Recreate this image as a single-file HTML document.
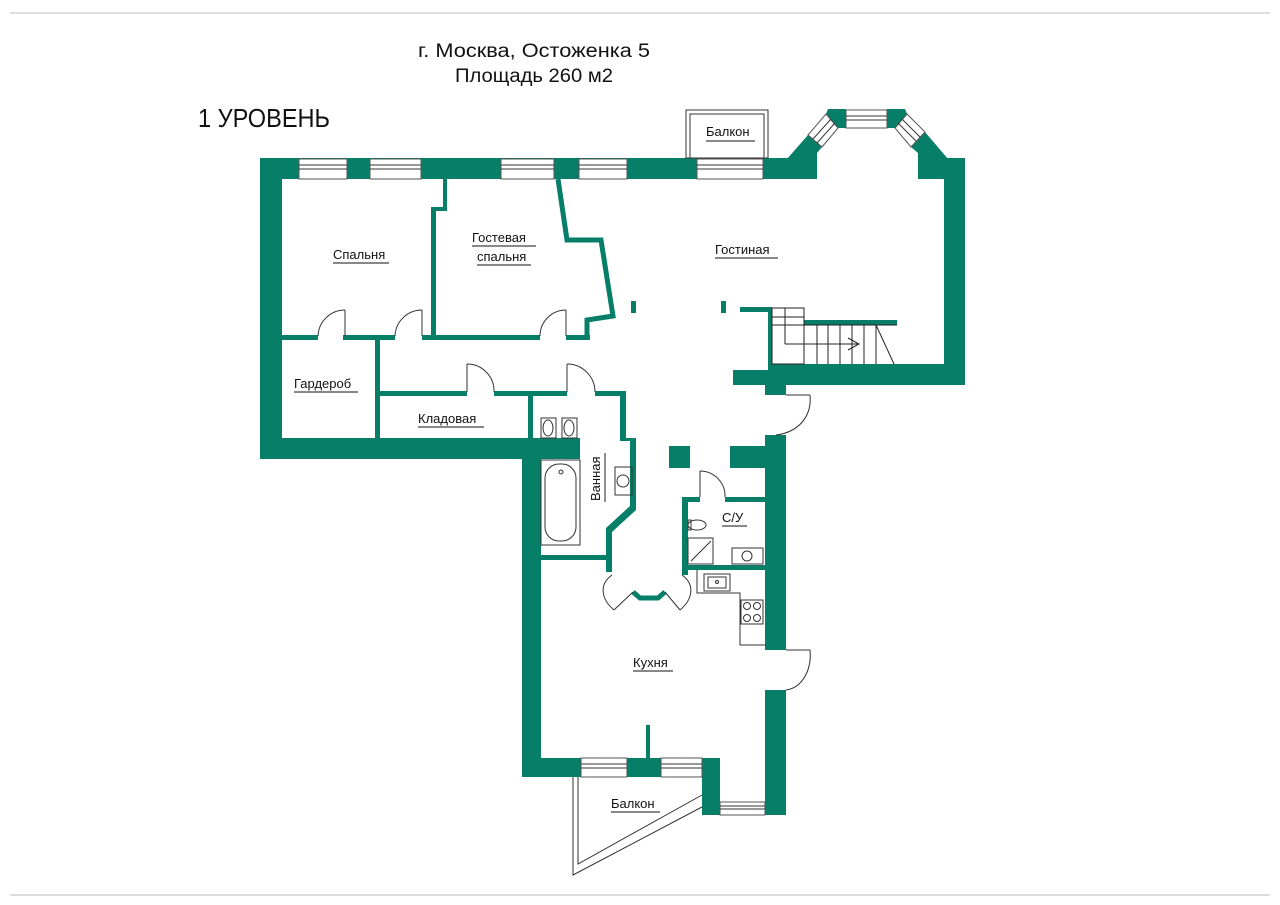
<!DOCTYPE html>
<html><head><meta charset="utf-8"><style>
html,body{margin:0;padding:0;background:#fff;}
svg{display:block;}
text{font-family:"Liberation Sans","DejaVu Sans",sans-serif;fill:#111;}
</style></head><body>
<svg width="1280" height="905" viewBox="0 0 1280 905" xmlns="http://www.w3.org/2000/svg">
<line x1="10" y1="13" x2="1270" y2="13" stroke="#bbb" stroke-width="1"/>
<line x1="10" y1="895" x2="1270" y2="895" stroke="#bbb" stroke-width="1"/>

<text x="418" y="57" font-size="19" textLength="232" lengthAdjust="spacingAndGlyphs">г. Москва, Остоженка 5</text>
<text x="455" y="82" font-size="19" textLength="158" lengthAdjust="spacingAndGlyphs">Площадь 260 м2</text>
<text x="198" y="127" font-size="26" textLength="132" lengthAdjust="spacingAndGlyphs">1 УРОВЕНЬ</text>

<g fill="#077f68">
<rect x="260" y="158" width="557" height="21"/>
<rect x="918" y="158" width="47" height="21"/>
<polygon points="787,159 808,135 822,147 817,153 817,179 787,179"/>
<polygon points="828,109 846,109 846,128 838,128 826,114"/>
<polygon points="887,109 905,109 907,114 895,128 887,128"/>
<polygon points="925,132 948,159 918,159 918,153 911,147"/>
<rect x="944" y="158" width="21" height="227"/>
<rect x="768" y="364" width="197" height="21"/>
<rect x="733" y="370" width="35" height="15"/>
<rect x="765" y="380" width="21" height="15"/>
<rect x="768" y="307" width="4" height="60"/>
<rect x="740" y="307" width="30" height="5"/>
<rect x="804" y="320" width="93" height="5"/>
<rect x="260" y="158" width="22" height="301"/>
<rect x="260" y="438" width="320" height="21"/>
<rect x="522" y="438" width="19" height="339"/>
<rect x="522" y="758" width="180" height="19"/>
<rect x="702" y="758" width="18" height="57"/>
<rect x="765" y="435" width="21" height="215"/>
<rect x="765" y="690" width="21" height="125"/>
<rect x="669" y="446" width="21" height="22"/>
<rect x="730" y="446" width="35" height="22"/>
<rect x="631" y="301" width="5" height="12"/>
<rect x="721" y="301" width="5" height="12"/>
<rect x="282" y="335" width="36" height="5"/>
<rect x="343" y="335" width="52" height="5"/>
<rect x="422" y="335" width="118" height="5"/>
<rect x="566" y="335" width="24" height="5"/>
<rect x="443" y="179" width="4" height="32"/>
<rect x="431" y="207" width="16" height="4"/>
<rect x="431" y="207" width="5" height="131"/>
<polyline points="558,179 567,240 601,240 613,316 587,320 587,338" fill="none" stroke="#077f68" stroke-width="5"/>
<rect x="375" y="338" width="5" height="101"/>
<rect x="380" y="391" width="87" height="5"/>
<rect x="494" y="391" width="73" height="5"/>
<rect x="595" y="391" width="30" height="5"/>
<rect x="528" y="391" width="5" height="48"/>
<rect x="620" y="391" width="6" height="50"/>
<polygon points="620,438 636,438 636,510 612,532 612,572 606,572 606,528 630,506 630,441 620,441"/>
<rect x="541" y="555" width="69" height="5"/>
<polyline points="633,592 640,598 658,598 665,592" fill="none" stroke="#077f68" stroke-width="5"/>
<rect x="682" y="497" width="6" height="78"/>
<rect x="682" y="497" width="18" height="5"/>
<rect x="725" y="497" width="40" height="5"/>
<rect x="688" y="565" width="77" height="5"/>
<rect x="646" y="725" width="4" height="33"/>
</g>

<g fill="#fff" stroke="#555" stroke-width="1">
<rect x="299" y="159" width="48" height="20"/>
<rect x="370" y="159" width="51" height="20"/>
<rect x="501" y="159" width="53" height="20"/>
<rect x="579" y="159" width="48" height="20"/>
<rect x="697" y="159" width="66" height="20"/>
<rect x="846" y="110" width="41" height="18"/>
<rect x="581" y="758" width="46" height="19"/>
<rect x="661" y="758" width="41" height="19"/>
<rect x="720" y="802" width="45" height="13"/>
</g>
<g stroke="#333" stroke-width="1" fill="none">
<line x1="299" y1="165" x2="347" y2="165"/><line x1="299" y1="169" x2="347" y2="169"/>
<line x1="370" y1="165" x2="421" y2="165"/><line x1="370" y1="169" x2="421" y2="169"/>
<line x1="501" y1="165" x2="554" y2="165"/><line x1="501" y1="169" x2="554" y2="169"/>
<line x1="579" y1="165" x2="627" y2="165"/><line x1="579" y1="169" x2="627" y2="169"/>
<line x1="697" y1="165" x2="763" y2="165"/><line x1="697" y1="169" x2="763" y2="169"/>
<line x1="846" y1="116" x2="887" y2="116"/><line x1="846" y1="120" x2="887" y2="120"/>
<line x1="581" y1="764" x2="627" y2="764"/><line x1="581" y1="768" x2="627" y2="768"/>
<line x1="661" y1="764" x2="702" y2="764"/><line x1="661" y1="768" x2="702" y2="768"/>
<line x1="720" y1="806" x2="765" y2="806"/><line x1="720" y1="809" x2="765" y2="809"/>
<polygon points="808,135 826,114 838,128 822,147" fill="#fff" stroke="#555"/>
<line x1="813" y1="139" x2="831" y2="119"/><line x1="817" y1="143" x2="835" y2="123"/>
<polygon points="907,114 925,132 911,147 895,128" fill="#fff" stroke="#555"/>
<line x1="902" y1="119" x2="920" y2="137"/><line x1="898" y1="123" x2="916" y2="141"/>
<rect x="686" y="110" width="82" height="48"/>
<rect x="690" y="114" width="74" height="44"/>
<polyline points="573,777 573,875 702,807"/>
<polyline points="578,777 578,864 702,795"/>
<g stroke="#222">
<rect x="772" y="308" width="32" height="56"/>
<line x1="772" y1="317" x2="804" y2="317"/>
<line x1="772" y1="325" x2="897" y2="325"/>
<line x1="785" y1="308" x2="785" y2="344"/>
<line x1="785" y1="344" x2="859" y2="344"/>
<polyline points="848,338 859,344 848,350"/>
<line x1="817" y1="325" x2="817" y2="364"/><line x1="828" y1="325" x2="828" y2="364"/>
<line x1="840" y1="325" x2="840" y2="364"/><line x1="852" y1="325" x2="852" y2="364"/>
<line x1="864" y1="325" x2="864" y2="364"/><line x1="876" y1="325" x2="876" y2="364"/>
<line x1="876" y1="325" x2="894" y2="364"/>
</g>
<line x1="345" y1="310" x2="345" y2="336"/><path d="M318,336 A27,27 0 0 1 345,310"/>
<line x1="422" y1="310" x2="422" y2="336"/><path d="M395,336 A27,27 0 0 1 422,310"/>
<line x1="566" y1="310" x2="566" y2="336"/><path d="M540,336 A26,26 0 0 1 566,310"/>
<line x1="467" y1="364" x2="467" y2="392"/><path d="M467,364 A27,27 0 0 1 494,392"/>
<line x1="567" y1="364" x2="567" y2="392"/><path d="M567,364 A28,28 0 0 1 595,392"/>
<line x1="700" y1="471" x2="700" y2="497"/><path d="M700,471 A25,25 0 0 1 725,497"/>
<line x1="786" y1="395" x2="810" y2="395"/><path d="M810,395 C812,415 800,432 776,435"/>
<line x1="786" y1="650" x2="810" y2="650"/><path d="M810,650 C812,670 802,688 786,690"/>
<path d="M612,575 C598,585 602,600 614,610"/><line x1="614" y1="610" x2="633" y2="592"/>
<path d="M682,575 C696,585 692,600 680,610"/><line x1="680" y1="610" x2="665" y2="592"/>
<rect x="541" y="460" width="39" height="85"/>
<rect x="545" y="464" width="31" height="77" rx="14"/>
<circle cx="561" cy="472" r="2"/>
<rect x="541" y="418" width="15" height="20"/><ellipse cx="548" cy="428" rx="5" ry="8"/>
<rect x="562" y="418" width="15" height="20"/><ellipse cx="569" cy="428" rx="5" ry="8"/>
<rect x="615" y="467" width="17" height="28"/><circle cx="623" cy="481" r="6"/>
<line x1="605" y1="453" x2="605" y2="502" stroke="#222"/>
<ellipse cx="697" cy="525" rx="9" ry="5"/><rect x="688" y="520" width="3" height="10"/>
<rect x="688" y="538" width="25" height="26"/><line x1="691" y1="561" x2="711" y2="541"/>
<rect x="732" y="548" width="31" height="16"/><circle cx="747" cy="556" r="5"/>
<polyline points="697,570 697,593 740,593 740,645 765,645"/>
<rect x="704" y="574" width="26" height="17"/><rect x="708" y="577" width="18" height="11"/><circle cx="717" cy="582" r="1.5"/>
<rect x="741" y="600" width="22" height="24"/>
<circle cx="747" cy="606" r="3.5"/><circle cx="757" cy="606" r="3.5"/><circle cx="747" cy="618" r="3.5"/><circle cx="757" cy="618" r="3.5"/>
</g>

<g font-size="13">
<text x="333" y="259">Спальня</text><line x1="333" y1="263" x2="389" y2="263" stroke="#111"/>
<text x="472" y="242">Гостевая</text><line x1="472" y1="246" x2="536" y2="246" stroke="#111"/>
<text x="477" y="261">спальня</text><line x1="477" y1="265" x2="531" y2="265" stroke="#111"/>
<text x="715" y="254">Гостиная</text><line x1="715" y1="258" x2="778" y2="258" stroke="#111"/>
<text x="706" y="136">Балкон</text><line x1="706" y1="141" x2="755" y2="141" stroke="#111"/>
<text x="294" y="388">Гардероб</text><line x1="294" y1="392" x2="358" y2="392" stroke="#111"/>
<text x="418" y="423">Кладовая</text><line x1="418" y1="427" x2="484" y2="427" stroke="#111"/>
<text x="722" y="522">С/У</text><line x1="722" y1="526" x2="747" y2="526" stroke="#111"/>
<text x="633" y="667">Кухня</text><line x1="633" y1="671" x2="673" y2="671" stroke="#111"/>
<text x="611" y="808">Балкон</text><line x1="611" y1="812" x2="660" y2="812" stroke="#111"/>
<text transform="translate(600,501) rotate(-90)">Ванная</text>
</g>
</svg>
</body></html>
